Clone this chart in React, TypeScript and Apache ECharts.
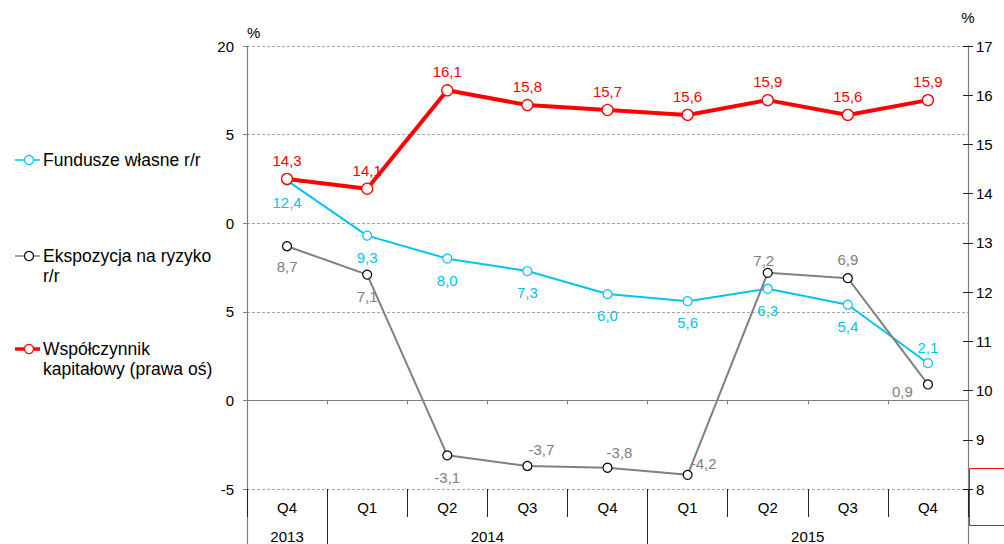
import React, { useEffect, useRef } from "react";
import * as echarts from "echarts";

const quarters = ["Q4", "Q1", "Q2", "Q3", "Q4", "Q1", "Q2", "Q3", "Q4"];
const yearGroups = [
  { label: "2013", quarters: 1 },
  { label: "2014", quarters: 4 },
  { label: "2015", quarters: 4 },
];
const funduszeWlasne = [12.4, 9.3, 8.0, 7.3, 6.0, 5.6, 6.3, 5.4, 2.1];
const ekspozycja = [8.7, 7.1, -3.1, -3.7, -3.8, -4.2, 7.2, 6.9, 0.9];
const wspolczynnik = [14.3, 14.1, 16.1, 15.8, 15.7, 15.6, 15.9, 15.6, 15.9];
const leftTickLabels = ["-5", "0", "5", "0", "5", "20"]; // for -5,0,5,10,15,20 as printed
const seriesNames = [
  "Fundusze własne r/r",
  "Ekspozycja na ryzyko\nr/r",
  "Współczynnik\nkapitałowy (prawa oś)",
];

const FONT = "'Liberation Sans', Arial, sans-serif";
const CYAN = "#00C4F4";
const RED = "#FF0000";
const GRAY = "#808080";

const fmt = (p: any) => Number(p.value).toFixed(1).replace(".", ",");

// label placement per point (style only)
const cyanLabel = [
  ["bottom", 9], ["bottom", 9], ["bottom", 9], ["bottom", 9], ["bottom", 9],
  ["bottom", 9], ["bottom", 9], ["bottom", 9], ["top", 3],
];
const grayLabel: any[] = [
  { position: "bottom", distance: 8 },
  { position: "bottom", distance: 9 },
  { position: "bottom", distance: 10 },
  { position: "top", distance: 4, offset: [14, 0] },
  { position: "top", distance: 3, offset: [12, 0] },
  { position: "right", distance: 0, offset: [-2, -11] },
  { position: "top", distance: 0, offset: [-4, 0] },
  { position: "top", distance: 6 },
  { position: "left", distance: 10, offset: [0, 7] },
];

function buildYearAxis() {
  const total = quarters.length * 2 + 1;
  const labels: string[] = new Array(total).fill("");
  const ticks: number[] = [];
  let start = 0;
  yearGroups.forEach((g, i) => {
    labels[start * 2 + g.quarters] = g.label;
    if (i > 0) ticks.push(start * 2);
    start += g.quarters;
  });
  return { labels, ticks };
}

export default function App() {
  const ref = useRef<HTMLDivElement>(null);
  useEffect(() => {
    if (!ref.current) return;
    const chart = echarts.init(ref.current, undefined, { renderer: "svg" });
    const yearAxis = buildYearAxis();
    const gridLeft = 247;
    const gridRight = 36;

    const legendItems = [
      { color: CYAN, lw: 1.5, y: 160, stroke: CYAN, text: seriesNames[0] },
      { color: GRAY, lw: 1.5, y: 256, stroke: "#000", text: seriesNames[1] },
      { color: RED, lw: 3.5, y: 349, stroke: RED, text: seriesNames[2] },
    ];
    const graphic: any[] = [];
    legendItems.forEach((it) => {
      graphic.push({
        type: "line",
        shape: { x1: 15, y1: it.y, x2: 40, y2: it.y },
        style: { stroke: it.color, lineWidth: it.lw },
      });
      graphic.push({
        type: "circle",
        shape: { cx: 29, cy: it.y, r: 4.5 },
        style: { fill: "#fff", stroke: it.stroke, lineWidth: 1.2 },
      });
      graphic.push({
        type: "text",
        x: 43,
        y: it.y - 10,
        style: {
          text: it.text,
          fontSize: 17.5,
          fontFamily: FONT,
          fill: "#000",
          lineHeight: 20,
          verticalAlign: "top",
        },
      });
    });
    graphic.push({
      type: "rect",
      shape: { x: 969.5, y: 468.5, width: 40, height: 57 },
      style: { fill: "none", stroke: RED, lineWidth: 1 },
    });

    const option: any = {
      animation: false,
      textStyle: { fontFamily: FONT },
      graphic,
      grid: [
        { left: gridLeft, right: gridRight, top: 46, bottom: 55, containLabel: false },
        { left: gridLeft, right: gridRight, top: 489, bottom: 0, containLabel: false },
      ],
      xAxis: [
        {
          type: "category",
          gridIndex: 0,
          data: quarters,
          boundaryGap: true,
          axisLine: { onZero: true, onZeroAxisIndex: 0, lineStyle: { color: GRAY, width: 1.2 } },
          axisTick: { show: true, length: 4, interval: 0, lineStyle: { color: GRAY } },
          axisLabel: { show: false },
          splitLine: { show: false },
        },
        {
          type: "category",
          gridIndex: 0,
          position: "bottom",
          data: quarters,
          boundaryGap: true,
          axisLine: { show: false, onZero: false },
          axisTick: { show: true, length: 28, interval: 0, lineStyle: { color: "#222" } },
          axisLabel: { show: true, interval: 0, margin: 11, fontSize: 15, color: "#000", fontFamily: FONT },
          splitLine: { show: false },
        },
        {
          type: "category",
          gridIndex: 0,
          position: "bottom",
          offset: 28,
          data: yearAxis.labels,
          boundaryGap: false,
          axisLine: { show: false, onZero: false },
          axisTick: {
            show: true,
            length: 28,
            interval: (i: number) => yearAxis.ticks.indexOf(i) >= 0,
            lineStyle: { color: "#222" },
          },
          axisLabel: { show: true, interval: 0, margin: 12, fontSize: 15, color: "#000", fontFamily: FONT },
          splitLine: { show: false },
        },
        { type: "category", gridIndex: 1, data: quarters, show: false },
      ],
      yAxis: [
        {
          type: "value",
          gridIndex: 0,
          position: "left",
          min: -5,
          max: 20,
          interval: 5,
          name: "%",
          nameLocation: "end",
          nameGap: 6,
          nameTextStyle: { fontSize: 15, color: "#000", align: "left", fontFamily: FONT },
          axisLine: { show: true, lineStyle: { color: GRAY, width: 1.2 } },
          axisTick: { show: true, length: 4, lineStyle: { color: GRAY } },
          axisLabel: {
            margin: 13,
            fontSize: 15,
            color: "#000",
            fontFamily: FONT,
            formatter: (v: number) => leftTickLabels[Math.round((v + 5) / 5)] ?? "",
          },
          splitLine: { show: true, lineStyle: { color: "#A6A6A6", type: [3, 2], width: 1 } },
        },
        {
          type: "value",
          gridIndex: 0,
          position: "right",
          min: 8,
          max: 17,
          interval: 1,
          name: "%",
          nameLocation: "end",
          nameGap: 21,
          nameTextStyle: { fontSize: 15, color: "#000", fontFamily: FONT },
          axisLine: { show: true, lineStyle: { color: GRAY, width: 1.2 } },
          axisTick: { show: true, length: 5, lineStyle: { color: "#222" } },
          axisLabel: { margin: 8, fontSize: 15, color: "#000", fontFamily: FONT },
          splitLine: { show: false },
        },
        {
          type: "value",
          gridIndex: 0,
          position: "right",
          min: 8,
          max: 17,
          interval: 1,
          axisLine: { show: false },
          axisTick: { show: true, inside: true, length: 5, lineStyle: { color: "#222" } },
          axisLabel: { show: false },
          splitLine: { show: false },
        },
        {
          type: "value",
          gridIndex: 1,
          position: "left",
          min: 0,
          max: 1,
          axisLine: { show: true, lineStyle: { color: GRAY, width: 1.2 } },
          axisTick: { show: false },
          axisLabel: { show: false },
          splitLine: { show: false },
        },
        {
          type: "value",
          gridIndex: 1,
          position: "right",
          min: 0,
          max: 1,
          axisLine: { show: true, lineStyle: { color: GRAY, width: 1.2 } },
          axisTick: { show: false },
          axisLabel: { show: false },
          splitLine: { show: false },
        },
      ],
      series: [
        {
          name: seriesNames[0],
          type: "line",
          xAxisIndex: 0,
          yAxisIndex: 0,
          data: funduszeWlasne.map((v, i) => ({
            value: v,
            label: { position: cyanLabel[i][0], distance: cyanLabel[i][1] },
          })),
          symbol: "circle",
          symbolSize: 9,
          lineStyle: { color: CYAN, width: 2 },
          itemStyle: { color: "#fff", borderColor: CYAN, borderWidth: 1.2 },
          label: { show: true, formatter: fmt, fontSize: 15, color: CYAN, fontFamily: FONT },
          z: 3,
        },
        {
          name: seriesNames[1],
          type: "line",
          xAxisIndex: 0,
          yAxisIndex: 0,
          data: ekspozycja.map((v, i) => ({ value: v, label: grayLabel[i] })),
          symbol: "circle",
          symbolSize: 9,
          lineStyle: { color: GRAY, width: 2 },
          itemStyle: { color: "#fff", borderColor: "#000", borderWidth: 1.2 },
          label: { show: true, formatter: fmt, fontSize: 15, color: GRAY, fontFamily: FONT },
          z: 4,
        },
        {
          name: seriesNames[2],
          type: "line",
          xAxisIndex: 0,
          yAxisIndex: 1,
          data: wspolczynnik,
          symbol: "circle",
          symbolSize: 11,
          lineStyle: { color: RED, width: 4 },
          itemStyle: { color: "#fff", borderColor: RED, borderWidth: 1.3 },
          label: {
            show: true,
            position: "top",
            distance: 5,
            formatter: fmt,
            fontSize: 15,
            color: RED,
            fontFamily: FONT,
          },
          z: 5,
        },
      ],
    };
    chart.setOption(option);
    return () => chart.dispose();
  }, []);
  return (
    <div
      ref={ref}
      style={{ position: "fixed", left: 0, top: 0, width: 1004, height: 544, background: "#fff" }}
    />
  );
}
